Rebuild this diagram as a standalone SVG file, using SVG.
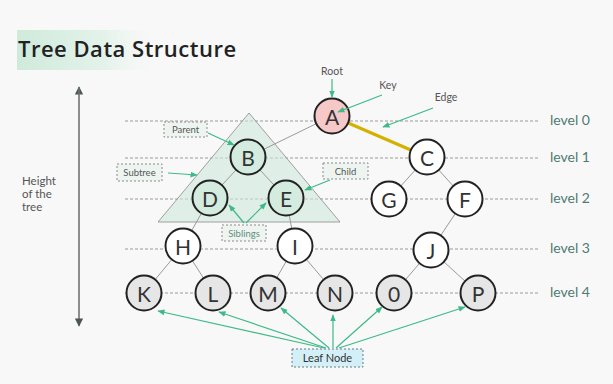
<svg xmlns="http://www.w3.org/2000/svg" width="613" height="384" viewBox="0 0 613 384">
<defs>
<linearGradient id="tg" x1="0" y1="0" x2="1" y2="0">
<stop offset="0" stop-color="#cfeadb"/>
<stop offset="0.6" stop-color="#e4f3ea"/>
<stop offset="1" stop-color="#f8f8f8" stop-opacity="0"/>
</linearGradient>
<marker id="ga" viewBox="0 0 10 10" refX="9" refY="5" markerWidth="6" markerHeight="6" orient="auto">
<path d="M0,1 L10,5 L0,9 z" fill="#3dba88"/>
</marker>
<marker id="da" viewBox="0 0 10 10" refX="9" refY="5" markerWidth="7" markerHeight="7" orient="auto">
<path d="M0,0 L10,5 L0,10 z" fill="#4b5753"/>
</marker>
</defs>
<style>
.bg{fill:#f8f8f8}
.lvl{stroke:#9a9a9a;stroke-width:1;stroke-dasharray:3 2;fill:none}
.lvlt{font-family:"Lato","Noto Sans",sans-serif;font-size:14px;fill:#4f7a72}
.edge{stroke:#9a9a9a;stroke-width:1;fill:none}
.node{stroke:#222;stroke-width:2}
.nt{font-family:"Lato","Noto Sans",sans-serif;font-size:21px;fill:#333;text-anchor:middle;dominant-baseline:central}
.w{fill:#ffffff}
.g{fill:#d4ecdf}
.p{fill:#f6c8c8}
.l{fill:#e6e6e6}
.ann{stroke:#3dba88;stroke-width:1.2;fill:none;marker-end:url(#ga)}
.box{fill:#eef5f1;stroke:#8a8a8a;stroke-width:1;stroke-dasharray:2 2}
.bt{font-family:"Lato","Noto Sans",sans-serif;font-size:9.5px;fill:#555;text-anchor:middle}
.at{font-family:"Lato","Noto Sans",sans-serif;font-size:10.5px;fill:#555;text-anchor:middle}
</style>
<rect class="bg" width="613" height="384"/>
<g id="title">
<rect x="17" y="30" width="148" height="40" fill="url(#tg)"/>
<text x="18" y="57" font-family="'Open Sans','Lato','Noto Sans',sans-serif" font-size="22" font-weight="600" letter-spacing="0.5" fill="#222">Tree Data Structure</text>
</g>
<g id="height">
<line x1="79" y1="325" x2="79" y2="87" stroke="#7a7a7a" stroke-width="1.2" marker-end="url(#da)"/>
<line x1="79" y1="88" x2="79" y2="326" stroke="#7a7a7a" stroke-width="1.2" marker-end="url(#da)"/>
<text font-family="Lato,'Noto Sans',sans-serif" font-size="11.5" fill="#555"><tspan x="22" y="185">Height</tspan><tspan x="22" y="198">of the</tspan><tspan x="22" y="211">tree</tspan></text>
</g>
<g id="levels">
<line class="lvl" x1="125" y1="121" x2="538" y2="121"/>
<line class="lvl" x1="125" y1="158" x2="538" y2="158"/>
<line class="lvl" x1="125" y1="199" x2="538" y2="199"/>
<line class="lvl" x1="125" y1="249" x2="538" y2="249"/>
<line class="lvl" x1="125" y1="293" x2="538" y2="293"/>
<text class="lvlt" x="550" y="125">level 0</text>
<text class="lvlt" x="550" y="162">level 1</text>
<text class="lvlt" x="550" y="203">level 2</text>
<text class="lvlt" x="550" y="253">level 3</text>
<text class="lvlt" x="550" y="297">level 4</text>
</g>
<g id="subtree-area">
<polygon points="249,113 158,222 340,222" fill="#cfe8da" fill-opacity="0.6" stroke="#8a8a8a" stroke-width="0.8"/>
</g>
<g id="connectors">
<line class="edge" x1="332" y1="116" x2="248" y2="157"/>
<line x1="332" y1="116" x2="427" y2="157" stroke="#d4b000" stroke-width="3"/>
<line class="edge" x1="248" y1="157" x2="210" y2="198"/>
<line class="edge" x1="248" y1="157" x2="286" y2="198"/>
<line class="edge" x1="210" y1="198" x2="183" y2="246"/>
<line class="edge" x1="286" y1="198" x2="295" y2="246"/>
<line class="edge" x1="427" y1="157" x2="389" y2="199"/>
<line class="edge" x1="427" y1="157" x2="465" y2="199"/>
<line class="edge" x1="465" y1="199" x2="431" y2="250"/>
<line class="edge" x1="183" y1="246" x2="144" y2="293"/>
<line class="edge" x1="183" y1="246" x2="213" y2="293"/>
<line class="edge" x1="295" y1="246" x2="268" y2="293"/>
<line class="edge" x1="295" y1="246" x2="335" y2="293"/>
<line class="edge" x1="431" y1="250" x2="394" y2="293"/>
<line class="edge" x1="431" y1="250" x2="478" y2="293"/>
</g>
<g id="node-A"><circle class="node p" cx="332" cy="116" r="17.5"/><text class="nt" x="332" y="116">A</text></g>
<g id="node-B"><circle class="node g" cx="248" cy="157" r="17.5"/><text class="nt" x="248" y="157">B</text></g>
<g id="node-C"><circle class="node w" cx="427" cy="157" r="17.5"/><text class="nt" x="427" y="157">C</text></g>
<g id="node-D"><circle class="node g" cx="210" cy="198" r="17.5"/><text class="nt" x="210" y="198">D</text></g>
<g id="node-E"><circle class="node g" cx="286" cy="198" r="17.5"/><text class="nt" x="286" y="198">E</text></g>
<g id="node-G"><circle class="node w" cx="389" cy="199" r="17.5"/><text class="nt" x="389" y="199">G</text></g>
<g id="node-F"><circle class="node w" cx="465" cy="199" r="17.5"/><text class="nt" x="465" y="199">F</text></g>
<g id="node-H"><circle class="node w" cx="183" cy="246" r="17.5"/><text class="nt" x="183" y="246">H</text></g>
<g id="node-I"><circle class="node w" cx="295" cy="246" r="17.5"/><text class="nt" x="295" y="246">I</text></g>
<g id="node-J"><circle class="node w" cx="431" cy="250" r="17.5"/><text class="nt" x="431" y="250">J</text></g>
<g id="node-K"><circle class="node l" cx="144" cy="293" r="17.5"/><text class="nt" x="144" y="293">K</text></g>
<g id="node-L"><circle class="node l" cx="213" cy="293" r="17.5"/><text class="nt" x="213" y="293">L</text></g>
<g id="node-M"><circle class="node l" cx="268" cy="293" r="17.5"/><text class="nt" x="268" y="293">M</text></g>
<g id="node-N"><circle class="node l" cx="335" cy="293" r="17.5"/><text class="nt" x="335" y="293">N</text></g>
<g id="node-O"><circle class="node l" cx="394" cy="293" r="17.5"/><text class="nt" x="394" y="293">0</text></g>
<g id="node-P"><circle class="node l" cx="478" cy="293" r="17.5"/><text class="nt" x="478" y="293">P</text></g>
<g id="annotations">
<text class="at" x="332" y="75">Root</text>
<line class="ann" x1="332" y1="79" x2="332" y2="97"/>
<text class="at" x="388" y="89">Key</text>
<line class="ann" x1="382" y1="95" x2="338" y2="112"/>
<text class="at" x="446" y="101">Edge</text>
<line class="ann" x1="433" y1="108" x2="383" y2="127"/>
<rect class="box" x="164" y="122" width="43" height="15"/>
<text class="bt" x="185.5" y="133">Parent</text>
<line class="ann" x1="208" y1="133" x2="234" y2="145"/>
<rect class="box" x="117" y="164" width="45" height="17"/>
<text class="bt" x="139.5" y="176">Subtree</text>
<line class="ann" x1="168" y1="173" x2="197" y2="175"/>
<rect class="box" x="323" y="163" width="45" height="16"/>
<text class="bt" x="345.5" y="175">Child</text>
<line class="ann" x1="330" y1="180" x2="305" y2="190"/>
<rect class="box" x="222" y="225" width="44" height="16"/>
<text class="bt" x="244" y="237" style="fill:#5f8f7d">Siblings</text>
<line class="ann" x1="244" y1="223" x2="229" y2="205"/>
<line class="ann" x1="246" y1="223" x2="266" y2="203"/>
</g>
<g id="leaf-node">
<line class="ann" x1="324" y1="348" x2="158" y2="311"/>
<line class="ann" x1="326" y1="348" x2="219" y2="312"/>
<line class="ann" x1="329" y1="348" x2="281" y2="308"/>
<line class="ann" x1="333" y1="348" x2="333" y2="315"/>
<line class="ann" x1="336" y1="348" x2="382" y2="307"/>
<line class="ann" x1="339" y1="348" x2="465" y2="307"/>
<rect x="292" y="349" width="71" height="18" fill="#d3f0f8" stroke="#6a7a80" stroke-width="1" stroke-dasharray="2 2"/>
<text x="327.5" y="362" font-family="Lato,'Noto Sans',sans-serif" font-size="11" fill="#333" text-anchor="middle">Leaf Node</text>
</g>
</svg>
